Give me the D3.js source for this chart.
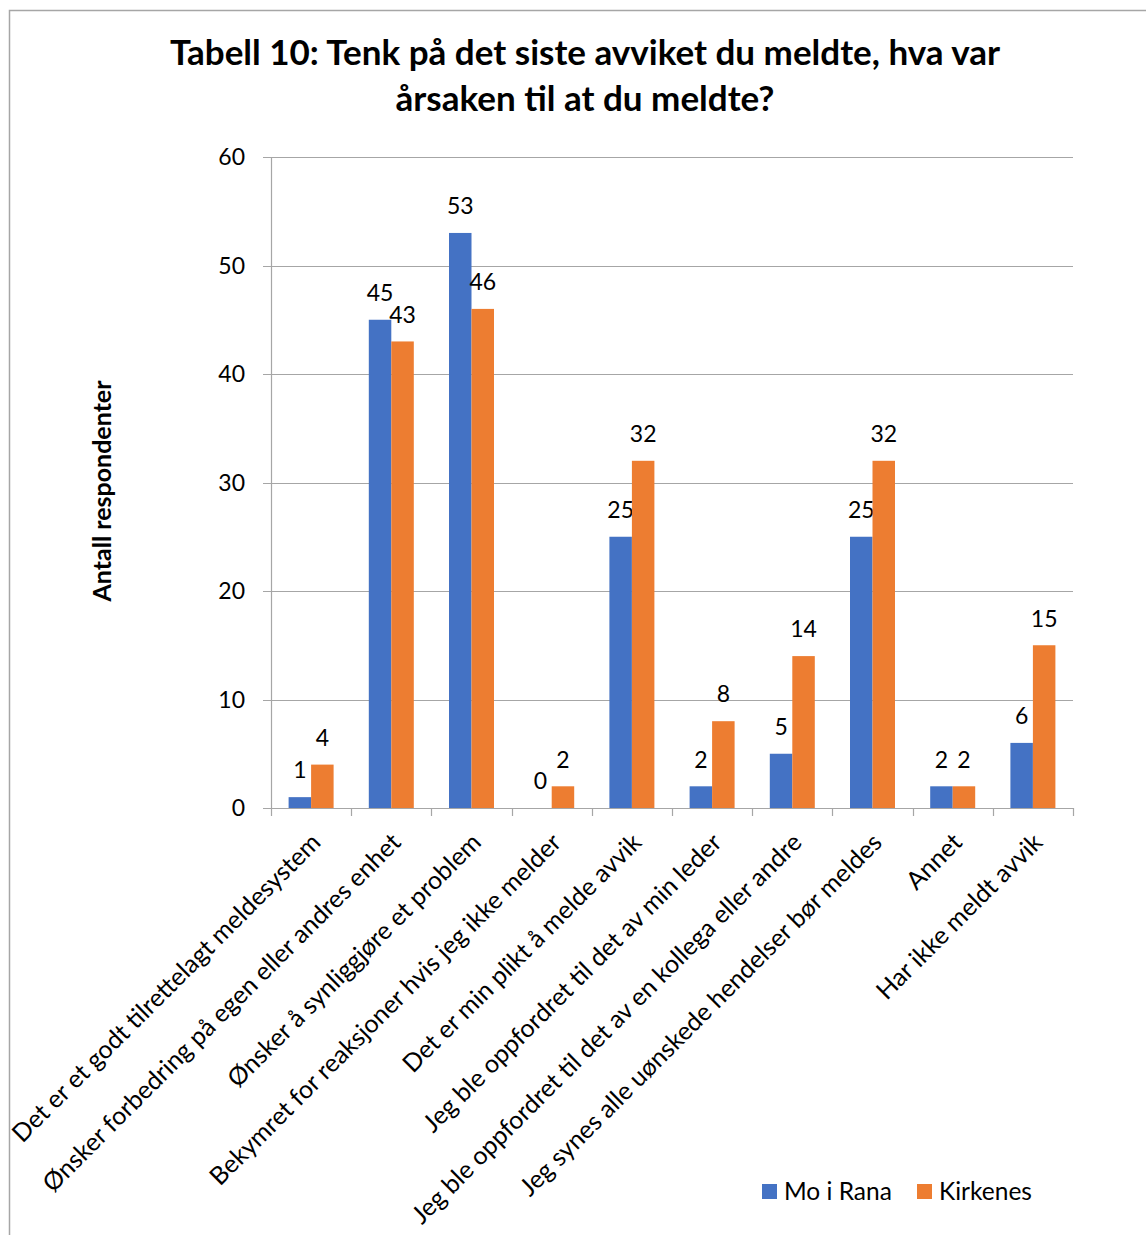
<!DOCTYPE html>
<html>
<head>
<meta charset="utf-8">
<script src="https://d3js.org/d3.v7.min.js"></script>
<style>
  html, body { margin: 0; padding: 0; background: #fff; }
  svg { display: block; }
  text { font-family: "Lato", "Open Sans", sans-serif; fill: #000; }
</style>
</head>
<body>
<script>
const categories = [
  "Det er et godt tilrettelagt meldesystem",
  "Ønsker forbedring på egen eller andres enhet",
  "Ønsker å synliggjøre et problem",
  "Bekymret for reaksjoner hvis jeg ikke melder",
  "Det er min plikt å melde avvik",
  "Jeg ble oppfordret til det av min leder",
  "Jeg ble oppfordret til det av en kollega eller andre",
  "Jeg synes alle uønskede hendelser bør meldes",
  "Annet",
  "Har ikke meldt avvik"
];
const seriesNames = ["Mo i Rana", "Kirkenes"];
const moIRana = [1, 45, 53, 0, 25, 2, 5, 25, 2, 6];
const kirkenes = [4, 43, 46, 2, 32, 8, 14, 32, 2, 15];
const yTicks = [0, 10, 20, 30, 40, 50, 60];
const titleLines = ["Tabell 10: Tenk på det siste avviket du meldte, hva var", "årsaken til at du meldte?"];
const yTitle = "Antall respondenter";

const W = 1146, H = 1235;
const colors = ["#4472C4", "#ED7D31"];
const series = [moIRana, kirkenes];

const svg = d3.select("body").append("svg").attr("width", W).attr("height", H);

// chart border
svg.append("path")
  .attr("d", `M9.5,${H} L9.5,10.5 L${W},10.5`)
  .attr("fill", "none").attr("stroke", "#a6a6a6").attr("stroke-width", 1.5);

const plot = { left: 271, right: 1073, top: 157, bottom: 808 };

const x = d3.scaleBand().domain(categories).range([plot.left, plot.right]).padding(0);
const y = d3.scaleLinear().domain([0, 60]).range([plot.bottom, plot.top]);

const barW = 22.5;

// gridlines
svg.append("g").selectAll("line").data(yTicks).join("line")
  .attr("x1", plot.left - 8).attr("x2", plot.right)
  .attr("y1", d => Math.round(y(d)) + 0.5).attr("y2", d => Math.round(y(d)) + 0.5)
  .attr("stroke", "#a6a6a6").attr("stroke-width", 1.2);

// y axis line
svg.append("line")
  .attr("x1", plot.left + 0.5).attr("x2", plot.left + 0.5)
  .attr("y1", plot.top).attr("y2", plot.bottom)
  .attr("stroke", "#a6a6a6").attr("stroke-width", 1.2);

// y tick labels
svg.append("g").selectAll("text").data(yTicks).join("text")
  .attr("x", 245).attr("y", d => y(d))
  .attr("dy", "0.36em")
  .attr("text-anchor", "end")
  .attr("font-size", 23)
  .text(d => d);

// x tick marks
const boundaries = categories.map(c => x(c)).concat([plot.right]);
svg.append("g").selectAll("line").data(boundaries).join("line")
  .attr("x1", d => Math.round(d) + 0.5).attr("x2", d => Math.round(d) + 0.5)
  .attr("y1", plot.bottom).attr("y2", plot.bottom + 8)
  .attr("stroke", "#a6a6a6").attr("stroke-width", 1.2);

// bars
series.forEach((vals, si) => {
  const g = svg.append("g");
  g.selectAll("rect").data(vals).join("rect")
    .attr("x", (d, i) => x(categories[i]) + (x.bandwidth() - 2 * barW) / 2 + si * barW)
    .attr("width", barW)
    .attr("y", d => y(d))
    .attr("height", d => y(0) - y(d))
    .attr("fill", colors[si]);
  g.selectAll("text").data(vals).join("text")
    .attr("x", (d, i) => x(categories[i]) + (x.bandwidth() - 2 * barW) / 2 + si * barW + barW / 2)
    .attr("y", d => y(d) - 27)
    .attr("dy", "0.36em")
    .attr("text-anchor", "middle")
    .attr("font-size", 23)
    .text(d => d);
});

// x axis line
svg.append("line")
  .attr("x1", plot.left).attr("x2", plot.right + 0.5)
  .attr("y1", plot.bottom + 0.5).attr("y2", plot.bottom + 0.5)
  .attr("stroke", "#a6a6a6").attr("stroke-width", 1.2);

// category labels rotated
svg.append("g").selectAll("text").data(categories).join("text")
  .attr("transform", d => `translate(${x(d) + x.bandwidth() / 2 + 11},${plot.bottom + 36}) rotate(-45)`)
  .attr("text-anchor", "end")
  .attr("font-size", 25)
  .text(d => d);

// title
svg.append("g").selectAll("text").data(titleLines).join("text")
  .attr("x", 585).attr("y", (d, i) => 65 + i * 46)
  .attr("text-anchor", "middle")
  .attr("font-size", 35)
  .attr("font-weight", "bold")
  .text(d => d);

// y title
svg.append("text")
  .attr("transform", `translate(111,491) rotate(-90)`)
  .attr("text-anchor", "middle")
  .attr("font-size", 25)
  .attr("font-weight", "bold")
  .text(yTitle);

// legend
const legendX = [762, 917];
const lg = svg.append("g");
seriesNames.forEach((name, i) => {
  lg.append("rect").attr("x", legendX[i]).attr("y", 1184).attr("width", 15).attr("height", 15).attr("fill", colors[i]);
  lg.append("text").attr("x", legendX[i] + 22).attr("y", 1200).attr("font-size", 24.5).text(name);
});
</script>
</body>
</html>
